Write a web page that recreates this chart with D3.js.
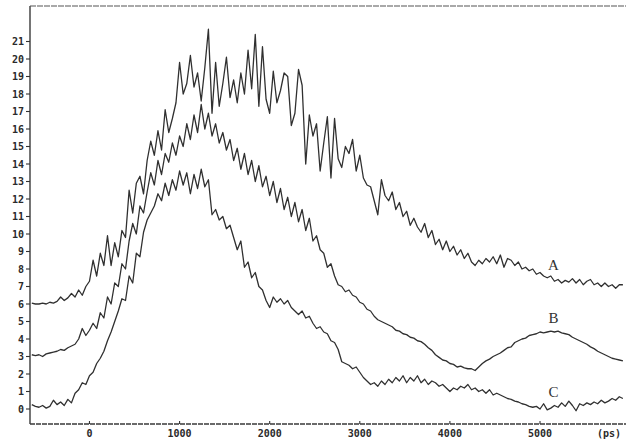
<!DOCTYPE html>
<html>
<head>
<meta charset="utf-8">
<script src="https://cdn.jsdelivr.net/npm/d3@7"></script>
<style>
  body { margin: 0; background: #fff; }
  svg { display: block; }
</style>
</head>
<body>
<svg id="chart" width="626" height="444"></svg>
<script>
// Time-resolved intensity traces, sampled every 40 ps starting at -640 ps.
const sampleStartPs = -640;
const sampleStepPs = 40;

const traceA = [
  6.05, 6.0, 6.0, 6.05, 6.0, 6.1, 6.05, 6.15, 6.4, 6.2,
  6.35, 6.6, 6.4, 6.8, 6.5, 7.0, 7.3, 8.5, 7.6, 8.9,
  8.2, 9.9, 8.2, 9.5, 8.7, 10.2, 9.8, 12.5, 11.2, 12.9,
  13.3, 12.3, 14.2, 15.3, 14.5, 15.9, 14.8, 17.1, 15.8, 16.6,
  17.5, 19.8, 18.0, 18.6, 20.2, 18.4, 19.2, 17.6, 19.5, 21.7,
  16.9, 19.8, 17.3, 18.6, 20.1, 17.8, 18.8, 17.5, 19.2, 18.0,
  20.5, 18.3, 21.4, 17.3, 20.7, 17.7, 16.9, 19.3, 17.5, 18.2,
  19.2, 19.0, 16.2, 16.9, 19.4, 18.5, 14.0, 16.8, 15.6, 16.3,
  13.6, 15.2, 16.7, 13.2, 16.6, 14.3, 13.8, 15.0, 14.6, 15.4,
  13.6, 14.5, 13.2, 12.8, 12.7, 11.9, 11.1, 13.1, 12.2, 11.9,
  12.4, 11.4, 11.8, 11.0, 11.3, 10.5, 10.9, 10.4, 10.1, 10.6,
  9.8, 10.2, 9.4, 9.7, 9.1, 9.6, 9.0, 9.3, 8.8, 9.1,
  8.6, 8.9, 8.4, 8.2, 8.5, 8.3, 8.6, 8.4, 8.7, 8.3,
  8.8, 8.1, 8.6, 8.5, 8.2, 8.4, 8.0, 8.1, 7.9, 8.0,
  7.7, 7.8, 7.6, 7.5, 7.6, 7.3, 7.4, 7.2, 7.35, 7.25,
  7.45, 7.2, 7.4, 7.1, 7.3, 7.4, 7.1, 7.2, 7.0, 7.2,
  7.0, 7.1, 6.9, 7.1, 7.1
];

const traceB = [
  3.1, 3.05, 3.1, 3.0, 3.15, 3.2, 3.25, 3.3, 3.4, 3.35,
  3.5, 3.6, 3.7, 4.0, 4.6, 4.2, 4.5, 4.9, 4.6, 5.5,
  5.2, 6.4, 6.0, 7.2, 7.0, 8.3, 8.0, 9.6, 10.6, 10.0,
  11.6, 11.2, 12.4, 13.5, 12.8, 14.2, 13.4, 14.6, 14.1, 15.2,
  14.5, 15.6, 15.0, 16.3, 15.4, 16.8, 15.8, 17.4, 16.0, 16.9,
  15.6, 16.3, 15.2, 15.8, 14.8, 15.4, 14.2, 14.9, 13.7, 14.6,
  13.4, 14.2, 13.0, 13.9, 12.7, 13.3, 12.2, 13.0, 11.8, 12.6,
  11.4, 12.1, 11.0, 11.8, 10.7, 11.4, 10.2, 10.9, 9.6, 9.9,
  9.1, 8.9, 8.1, 8.3, 7.6, 7.1, 7.0, 6.7, 6.8, 6.5,
  6.4, 6.1, 6.0, 5.7, 5.6, 5.3, 5.1, 5.0, 4.9, 4.8,
  4.7, 4.5, 4.45, 4.3, 4.25, 4.1, 4.05, 3.9, 3.85, 3.7,
  3.5, 3.35, 3.1, 2.95, 2.8, 2.75, 2.6, 2.55, 2.4, 2.45,
  2.35, 2.3, 2.3, 2.2, 2.4, 2.6, 2.75, 2.85, 3.0, 3.1,
  3.2, 3.35, 3.5, 3.55, 3.8, 3.9, 4.0, 4.05, 4.2, 4.25,
  4.3, 4.4, 4.35, 4.4, 4.45, 4.4, 4.45, 4.35, 4.3, 4.25,
  4.1, 4.0, 3.9, 3.8, 3.7, 3.55, 3.45, 3.3, 3.2, 3.1,
  3.0, 2.9, 2.85, 2.8, 2.75
];

const traceC = [
  0.25, 0.15, 0.1, 0.2, 0.05, 0.15, 0.5, 0.25, 0.4, 0.2,
  0.55, 0.35, 0.9, 1.1, 1.5, 1.4, 1.9, 2.1, 2.6, 2.9,
  3.3, 3.9, 4.4, 5.0, 5.6, 6.3, 6.2, 7.6, 7.2, 8.9,
  8.7, 10.1, 10.8, 11.2, 11.6, 12.3, 11.9, 12.9, 12.2, 13.1,
  12.5, 13.6, 12.8, 13.5, 12.3, 13.4, 12.6, 13.7, 12.7, 13.1,
  11.1, 11.4, 10.8, 11.0, 10.3, 10.5, 9.8, 9.1, 9.6, 8.1,
  8.4, 7.5, 7.8, 7.0, 6.8, 6.2, 5.8, 6.4, 6.1, 6.3,
  6.0, 6.2, 5.8, 5.6, 5.4, 5.6, 5.2, 5.3, 4.9, 4.6,
  4.7, 4.4, 4.3, 3.9, 3.8, 3.4, 2.7, 2.6, 2.5, 2.3,
  2.4, 2.1, 1.8, 1.6, 1.4, 1.5, 1.3, 1.6, 1.4, 1.7,
  1.5, 1.8, 1.6, 1.9, 1.5, 1.8, 1.6, 1.9, 1.5, 1.7,
  1.4, 1.6, 1.5, 1.3, 1.4, 1.2, 1.0, 1.2, 1.1, 1.3,
  1.2, 1.4, 1.1, 1.2, 1.0, 1.1, 0.9, 1.1, 0.8, 0.9,
  0.8, 0.7, 0.6, 0.55, 0.45, 0.4, 0.3, 0.25, 0.15, 0.1,
  0.15, 0.0, 0.3, -0.05, 0.05, 0.2, 0.1, 0.35, 0.15, 0.45,
  0.2, -0.1, 0.3, 0.2, 0.35, 0.25, 0.4, 0.3, 0.5, 0.35,
  0.45, 0.6, 0.5, 0.7, 0.6
];

const traceNames = ["A", "B", "C"];
const yTickValues = [0, 1, 2, 3, 4, 5, 6, 7, 8, 9, 10, 11, 12, 13, 14, 15, 16, 17, 18, 19, 20, 21];
const xTickValues = [0, 1000, 2000, 3000, 4000, 5000];
const xUnitLabel = "(ps)";

const svg = d3.select("#chart");
const plotLeft = 30, plotRight = 622, plotTop = 6, plotBottom = 424;

const x = d3.scaleLinear().domain([-660, 5910]).range([plotLeft, plotRight]);
const y = d3.scaleLinear().domain([0, 21]).range([409, 41.5]);

const monoFont = "'DejaVu Sans Mono', monospace";

// frame: left axis, bottom axis and top rule
const frame = svg.append("g").attr("stroke", "#3a3a3a").attr("fill", "none");
frame.append("line")
  .attr("x1", plotLeft).attr("x2", plotLeft)
  .attr("y1", plotTop).attr("y2", plotBottom)
  .attr("stroke-width", 1.4);
frame.append("line")
  .attr("x1", plotLeft).attr("x2", 626)
  .attr("y1", plotBottom).attr("y2", plotBottom)
  .attr("stroke-width", 1.6)
  .attr("stroke-dasharray", "5,1");
frame.append("line")
  .attr("x1", plotLeft).attr("x2", 626)
  .attr("y1", plotTop).attr("y2", plotTop)
  .attr("stroke-width", 1.2)
  .attr("stroke", "#555")
  .attr("stroke-dasharray", "6,1");

// y axis ticks and labels
const yAxis = svg.append("g");
yAxis.selectAll("line.ytick").data(yTickValues).join("line")
  .attr("class", "ytick")
  .attr("x1", plotLeft - 4).attr("x2", plotLeft)
  .attr("y1", d => y(d)).attr("y2", d => y(d))
  .attr("stroke", "#333").attr("stroke-width", 1.1);
yAxis.selectAll("text").data(yTickValues).join("text")
  .attr("x", plotLeft - 6)
  .attr("y", d => y(d))
  .attr("dy", "0.35em")
  .attr("text-anchor", "end")
  .attr("font-family", monoFont)
  .attr("font-size", 10)
  .attr("font-weight", "bold")
  .attr("fill", "#2a2a2a")
  .text(d => d);

// x axis ticks and labels
const xAxis = svg.append("g");
xAxis.selectAll("line").data(xTickValues).join("line")
  .attr("x1", d => x(d)).attr("x2", d => x(d))
  .attr("y1", plotBottom).attr("y2", plotBottom - 3)
  .attr("stroke", "#333").attr("stroke-width", 1.1);
xAxis.selectAll("text").data(xTickValues).join("text")
  .attr("x", d => x(d))
  .attr("y", 437)
  .attr("text-anchor", "middle")
  .attr("font-family", monoFont)
  .attr("font-size", 10)
  .attr("font-weight", "bold")
  .attr("fill", "#2a2a2a")
  .text(d => d);
svg.append("text")
  .attr("x", 609).attr("y", 437)
  .attr("text-anchor", "middle")
  .attr("font-family", monoFont)
  .attr("font-size", 10)
  .attr("font-weight", "bold")
  .attr("fill", "#2a2a2a")
  .text(xUnitLabel);

// traces
const traces = [traceA, traceB, traceC];
const line = d3.line()
  .x((d, i) => x(sampleStartPs + i * sampleStepPs))
  .y(d => y(d));

svg.append("g").selectAll("path").data(traces).join("path")
  .attr("d", line)
  .attr("fill", "none")
  .attr("stroke", "#303030")
  .attr("stroke-width", 1.3)
  .attr("stroke-linejoin", "round");

// trace names, set just above each trace near 5150 ps
const labelPs = 5150;
const labelIndex = Math.round((labelPs - sampleStartPs) / sampleStepPs);
svg.append("g").selectAll("text").data(traces).join("text")
  .attr("x", x(labelPs))
  .attr("y", (d, i) => y(d[labelIndex]) - [11, 9, 9][i])
  .attr("text-anchor", "middle")
  .attr("font-family", "'Liberation Serif', serif")
  .attr("font-size", 15)
  .attr("fill", "#333")
  .text((d, i) => traceNames[i]);
</script>
</body>
</html>
